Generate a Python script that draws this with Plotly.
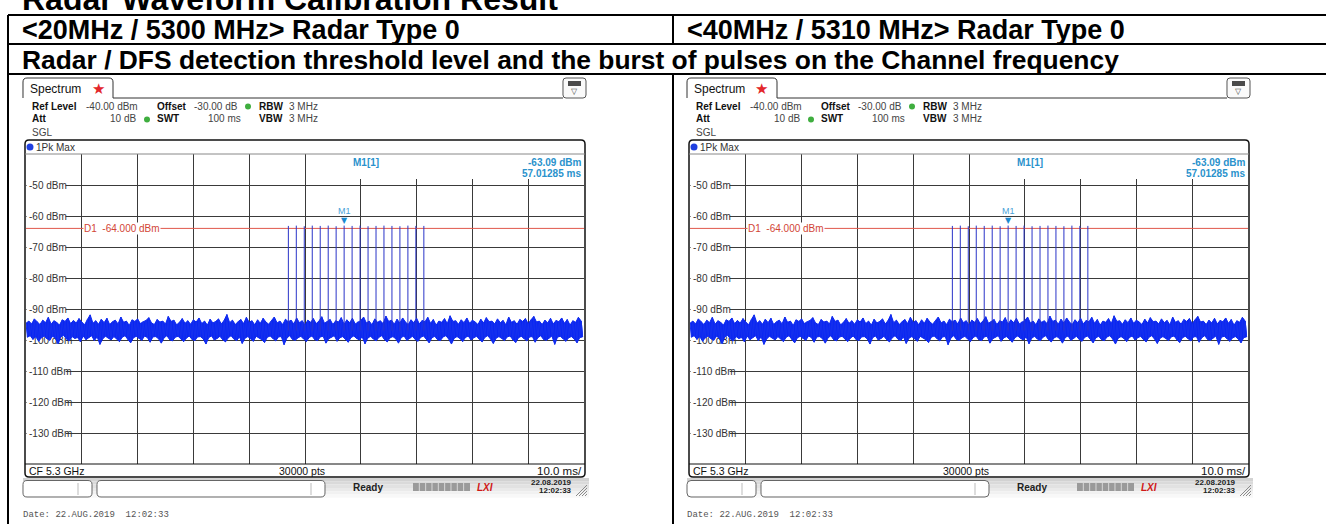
import plotly.graph_objects as go

W, H = 1326, 524
SANS = "Liberation Sans, Arial, sans-serif"
MONO = "Liberation Mono, Courier New, monospace"

# ---------------- measurement data (same sweep in both captures) ----------------
sweep_range_ms = [0, 100]
level_range_dbm = [-140, -40]
level_ticks_dbm = [-50, -60, -70, -80, -90, -100, -110, -120, -130]
level_tick_text = ["-50 dBm", "-60 dBm", "-70 dBm", "-80 dBm", "-90 dBm",
                   "-100 dBm", "-110 dBm", "-120 dBm", "-130 dBm"]

# Radar type 0 burst: 18 pulses, PRI about 1.428 ms
pulse_times_ms = [47.02, 48.44, 49.87, 51.30, 52.73, 54.16, 55.58, 57.01285, 58.44,
                  59.87, 61.30, 62.73, 64.15, 65.58, 67.01, 68.44, 69.87, 71.30]
pulse_peaks_dbm = [-63.2, -63.1, -63.3, -63.1, -63.2, -63.1, -63.3, -63.09, -63.2,
                   -63.1, -63.3, -63.2, -63.1, -63.2, -63.3, -63.1, -63.2, -63.2]
pulse_floor_dbm = -97.0

threshold_dbm = -64.0
marker_time_ms = 57.01285
marker_level_dbm = -63.09

# noise floor: per 0.5 ms bin, max-hold peak and trough
noise_step_ms = 0.5
noise_peak_dbm = [
    -94.6, -93.9, -94.8, -93.2, -94.1, -95.0, -93.6, -94.4, -92.7, -94.9, -93.8, -94.3, -95.2, -93.5, -94.0, -92.9, -94.7, -93.7, -94.5, -93.1,
    -94.2, -95.1, -93.4, -91.9, -94.6, -93.8, -94.9, -93.3, -94.4, -93.0, -95.0, -94.1, -93.6, -94.8, -92.6, -94.3, -93.9, -95.3, -93.5, -94.0,
    -93.2, -94.7, -94.1, -93.7, -92.8, -94.5, -95.0, -93.4, -94.2, -93.9, -94.8, -92.4, -94.0, -93.6, -95.1, -94.3, -93.1, -94.6, -93.8, -94.9,
    -93.5, -94.2, -92.9, -94.7, -93.9, -95.2, -93.3, -94.5, -94.0, -93.2, -94.8, -93.7, -91.8, -94.4, -93.6, -95.0, -94.1, -93.4, -94.7, -92.7,
    -94.3, -93.8, -95.1, -93.5, -94.6, -93.0, -94.2, -94.9, -93.7, -92.6, -94.5, -93.9, -95.0, -93.3, -94.1, -93.6, -94.8, -92.9, -94.4, -93.8,
    -95.2, -93.6, -94.3, -93.1, -94.7, -93.9, -92.5, -94.6, -94.0, -93.4, -95.0, -93.8, -94.2, -92.8, -94.9, -93.5, -94.4, -93.0, -94.8, -94.1,
    -93.7, -92.6, -94.5, -93.9, -95.1, -93.2, -94.3, -93.8, -94.7, -92.3, -94.0, -93.6, -94.9, -93.3, -94.5, -92.9, -94.2, -95.0, -93.5, -94.4,
    -93.0, -94.8, -93.7, -94.1, -92.7, -94.6, -93.4, -95.2, -93.9, -94.3, -93.1, -94.7, -92.2, -94.0, -93.8, -94.9, -93.5, -94.4, -92.9, -94.6,
    -93.6, -94.2, -95.0, -93.3, -94.5, -92.8, -94.1, -93.9, -94.8, -93.2, -94.4, -93.7, -95.1, -92.6, -94.3, -93.8, -94.9, -93.4, -94.0, -93.1,
    -94.7, -93.5, -92.4, -94.2, -93.9, -95.0, -93.6, -94.5, -93.0, -94.8, -93.7, -94.1, -92.9, -94.6, -93.4, -95.2, -93.8, -94.3, -92.7, -93.9,
]
noise_trough_dbm = [
    -99.1, -98.6, -99.8, -98.9, -100.4, -99.3, -98.7, -99.6, -100.1, -98.8, -99.4, -101.2, -99.0, -98.5, -99.7, -100.3, -98.9, -99.5, -99.2, -100.6,
    -98.7, -99.9, -99.3, -98.6, -100.2, -99.0, -101.4, -99.6, -98.8, -99.4, -100.0, -98.9, -99.7, -100.5, -99.1, -98.6, -99.8, -100.9, -99.3, -98.8,
    -99.5, -100.1, -98.7, -99.2, -100.7, -99.0, -98.9, -99.6, -101.0, -99.3, -98.6, -99.9, -100.3, -99.1, -98.8, -99.7, -100.5, -99.4, -98.7, -99.8,
    -100.2, -99.0, -98.9, -99.6, -101.3, -99.2, -98.7, -100.0, -99.5, -98.8, -99.9, -100.6, -99.3, -98.6, -99.7, -100.2, -99.0, -101.1, -99.4, -98.9,
    -99.6, -100.4, -98.8, -99.2, -99.9, -100.8, -99.1, -98.7, -99.5, -100.3, -99.0, -98.9, -101.5, -99.4, -98.6, -99.8, -100.1, -99.3, -98.8, -99.7,
    -100.5, -99.2, -98.7, -99.9, -100.2, -99.0, -98.8, -101.0, -99.6, -99.1, -98.6, -100.4, -99.3, -98.9, -99.8, -100.7, -99.2, -98.7, -99.5, -100.0,
    -99.0, -101.2, -99.4, -98.8, -99.7, -100.3, -99.1, -98.6, -99.9, -100.6, -99.3, -98.9, -99.6, -101.0, -99.2, -98.7, -100.1, -99.5, -98.8, -99.8,
    -100.4, -99.1, -98.7, -99.6, -100.9, -99.3, -98.8, -99.9, -100.2, -99.0, -98.6, -99.7, -101.3, -99.4, -98.9, -99.5, -100.5, -99.2, -98.7, -100.0,
    -99.3, -98.8, -99.8, -100.6, -99.1, -98.6, -99.7, -101.1, -99.4, -98.9, -99.5, -100.2, -99.0, -98.7, -99.9, -100.8, -99.3, -98.8, -99.6, -100.3,
    -99.0, -98.9, -100.7, -99.2, -98.6, -99.8, -100.1, -99.4, -98.7, -101.4, -99.1, -98.8, -99.6, -100.4, -99.3, -98.9, -99.7, -100.9, -99.2, -99.0,
]

# ---------------- page / table text ----------------
page_title = "Radar Waveform Calibration Result"
panel_titles = ["&lt;20MHz / 5300 MHz&gt; Radar Type 0", "&lt;40MHz / 5310 MHz&gt; Radar Type 0"]
row_caption = "Radar / DFS detection threshold level and the burst of pulses on the Channel frequency"
panel_offsets_px = [0, 664]

# plot area of one analyzer capture, in page pixels (left capture)
PX0, PX1, PY0, PY1 = 26, 584, 154, 464

shapes, annotations = [], []


def P(x, y):
    return f"{x / W:.6f},{1 - y / H:.6f}"


def line(x0, y0, x1, y1, color="#000", width=1):
    shapes.append(dict(type="line", xref="paper", yref="paper", x0=x0 / W, y0=1 - y0 / H,
                       x1=x1 / W, y1=1 - y1 / H, line=dict(color=color, width=width)))


def rect(x0, y0, x1, y1, fill, color=None, width=0):
    shapes.append(dict(type="rect", xref="paper", yref="paper", x0=x0 / W, y0=1 - y0 / H,
                       x1=x1 / W, y1=1 - y1 / H, fillcolor=fill,
                       line=dict(color=color or fill, width=width)))


def rrect(x0, y0, x1, y1, r, color="#000", width=1, fill="rgba(0,0,0,0)"):
    path = (f"M{P(x0 + r, y0)} L{P(x1 - r, y0)} Q{P(x1, y0)} {P(x1, y0 + r)} "
            f"L{P(x1, y1 - r)} Q{P(x1, y1)} {P(x1 - r, y1)} L{P(x0 + r, y1)} "
            f"Q{P(x0, y1)} {P(x0, y1 - r)} L{P(x0, y0 + r)} Q{P(x0, y0)} {P(x0 + r, y0)} Z")
    shapes.append(dict(type="path", xref="paper", yref="paper", path=path, fillcolor=fill,
                       line=dict(color=color, width=width)))


def circle(cx, cy, r, fill):
    shapes.append(dict(type="circle", xref="paper", yref="paper",
                       x0=(cx - r) / W, x1=(cx + r) / W, y0=1 - (cy + r) / H, y1=1 - (cy - r) / H,
                       fillcolor=fill, line=dict(color=fill, width=0)))


def text(x, y, s, size=10, color="#333", anchor="left", family=SANS, bold=False, bg=None):
    if bold:
        s = f"<b>{s}</b>"
    a = dict(x=x / W, y=1 - y / H, xref="paper", yref="paper", text=s, showarrow=False,
             xanchor=anchor, yanchor="middle", borderpad=0,
             font=dict(family=family, size=size, color=color))
    if bg:
        a["bgcolor"] = bg
    annotations.append(a)


# ---------------- document table ----------------
text(21, -1, page_title, size=32, color="#000", bold=True)
line(8, 15, W, 15, width=2)
line(8, 44, W, 44, width=2)
line(8, 74, W, 74, width=2)
line(8, 15, 8, H, width=2)
line(673, 15, 673, 44, width=2)
line(673, 74, 673, H, width=2)
text(21, 30, panel_titles[0], size=27, color="#000", bold=True)
text(686, 30, panel_titles[1], size=27, color="#000", bold=True)
text(21, 59.5, row_caption, size=26.4, color="#000", bold=True)

# ---------------- analyzer screen chrome ----------------
for dx in panel_offsets_px:
    # tab and title bar
    shapes.append(dict(type="path", xref="paper", yref="paper",
                       path=(f"M{P(dx + 23, 98)} L{P(dx + 23, 82)} Q{P(dx + 23, 78)} {P(dx + 27, 78)} "
                             f"L{P(dx + 109, 78)} Q{P(dx + 113, 78)} {P(dx + 113, 82)} L{P(dx + 113, 98)}"),
                       line=dict(color="#333", width=1)))
    line(dx + 113, 98, dx + 563, 98, color="#333", width=1)
    text(dx + 29, 89, "Spectrum", size=12, color="#111")
    text(dx + 98, 88, "★", size=15, color="#e3262b", anchor="center")
    rrect(dx + 563, 78, dx + 586, 98, 3, color="#555", width=1, fill="#fafafa")
    rect(dx + 568, 81, dx + 581, 86, "#4a4a4a")
    text(dx + 574.5, 91.5, "▽", size=8, color="#444", anchor="center")

    # settings block
    text(dx + 31, 106, "Ref Level", bold=True, color="#111")
    text(dx + 85, 106, "-40.00 dBm", color="#444")
    text(dx + 156, 106, "Offset", bold=True, color="#111")
    text(dx + 193, 106, "-30.00 dB", color="#444")
    circle(dx + 248, 106.5, 3, "#3fae3f")
    text(dx + 258, 106, "RBW", bold=True, color="#111")
    text(dx + 288, 106, "3 MHz", color="#444")
    text(dx + 31, 119, "Att", bold=True, color="#111")
    text(dx + 137, 119, "10 dB", color="#444", anchor="right")
    circle(dx + 147, 119.5, 3, "#3fae3f")
    text(dx + 156, 119, "SWT", bold=True, color="#111")
    text(dx + 207, 119, "100 ms", color="#444")
    text(dx + 258, 119, "VBW", bold=True, color="#111")
    text(dx + 288, 119, "3 MHz", color="#444")
    text(dx + 31, 133, "SGL", color="#444")

    # diagram frame, trace header and footer
    rrect(dx + 25, 140, dx + 585, 477, 4, color="#111", width=1.5)
    line(dx + 25, PY0, dx + 585, PY0, color="#888", width=1)
    line(dx + 25, PY1, dx + 585, PY1, color="#111", width=1)
    circle(dx + 30, 147, 3.5, "#1f3fe0")
    text(dx + 35, 147, "1Pk Max", color="#333")
    text(dx + 28, 470.5, "CF 5.3 GHz", size=10.5, color="#111")
    text(dx + 302, 470.5, "30000 pts", size=10.5, color="#111", anchor="center")
    text(dx + 583, 470.5, "10.0 ms/", size=11.5, color="#111", anchor="right")

    # status bar
    for k, g in enumerate(["#d2d2d2", "#dadada", "#e2e2e2", "#eaeaea", "#f1f1f1", "#f8f8f8"]):
        rect(dx + 23, 478 + k * 3.3, dx + 589, 481.3 + k * 3.3, g)
    rrect(dx + 23, 480.5, dx + 92, 497, 4, color="#666", width=1, fill="#fff")
    line(dx + 78, 483, dx + 78, 495, color="#bbb")
    rrect(dx + 97, 480.5, dx + 325, 497, 4, color="#666", width=1, fill="#fff")
    line(dx + 311, 483, dx + 311, 495, color="#bbb")
    text(dx + 368, 487, "Ready", size=10, color="#222", anchor="center", bold=True)
    rect(dx + 413, 483, dx + 470, 491, "#9a9a9a")
    for k in range(1, 9):
        line(dx + 413 + k * 6.33, 483, dx + 413 + k * 6.33, 491, color="#d8d8d8", width=1)
    text(dx + 485, 487, "<i>LXI</i>", size=10, color="#d01818", anchor="center", bold=True)
    text(dx + 573, 482, "22.08.2019", size=8, color="#222", anchor="right", bold=True)
    text(dx + 573, 490, "12:02:33", size=8, color="#222", anchor="right", bold=True)
    for k in range(4):
        line(dx + 576 + k * 3, 496, dx + 587, 485 + k * 3, color="#8a8a8a", width=1)

    text(dx + 22, 515, "Date: 22.AUG.2019  12:02:33", size=9, color="#555", family=MONO)

# ---------------- traces ----------------
# noise band: peaks along the top edge, troughs back along the bottom edge
band_x = [i * noise_step_ms for i in range(len(noise_peak_dbm))]
band_x += [i * noise_step_ms + noise_step_ms / 2 for i in range(len(noise_trough_dbm))][::-1]
band_y = list(noise_peak_dbm) + list(noise_trough_dbm)[::-1]

# the same values as a single zig-zag sweep line
noise_x, noise_y = [], []
for i, (hi, lo) in enumerate(zip(noise_peak_dbm, noise_trough_dbm)):
    t = i * noise_step_ms
    noise_x += [t, t + noise_step_ms / 2]
    noise_y += [hi, lo]

pulse_x, pulse_y = [], []
for t, p in zip(pulse_times_ms, pulse_peaks_dbm):
    pulse_x += [t, t, None]
    pulse_y += [pulse_floor_dbm, p, None]

fig = go.Figure()
axis_ids = [("x", "y"), ("x2", "y2")]
for (xa, ya), dx in zip(axis_ids, panel_offsets_px):
    fig.add_trace(go.Scatter(x=band_x, y=band_y, xaxis=xa, yaxis=ya, mode="lines", fill="toself",
                             fillcolor="#0a26f2", line=dict(color="#0a26f2", width=1), hoverinfo="skip"))
    fig.add_trace(go.Scatter(x=noise_x, y=noise_y, xaxis=xa, yaxis=ya, mode="lines",
                             line=dict(color="#1530ee", width=1), hoverinfo="skip"))
    fig.add_trace(go.Scatter(x=pulse_x, y=pulse_y, xaxis=xa, yaxis=ya, mode="lines",
                             line=dict(color="#2a34c8", width=1), hoverinfo="skip"))

    # masks behind level labels and the marker readout
    for v in level_ticks_dbm:
        shapes.append(dict(type="rect", xref=xa, yref=ya, x0=0.1, x1=7.1, y0=v - 1.5, y1=v + 1.5,
                           fillcolor="#fff", line=dict(width=0), layer="between"))
    shapes.append(dict(type="rect", xref=xa, yref=ya, x0=56.3, x1=100, y0=-48.1, y1=-40,
                       fillcolor="#fff", line=dict(width=0), layer="between"))
    # display line D1
    shapes.append(dict(type="line", xref=xa, yref=ya, x0=0, x1=100, y0=threshold_dbm, y1=threshold_dbm,
                       line=dict(color="#e0584c", width=1), layer="between"))
    annotations.append(dict(xref=xa, yref=ya, x=10.2, y=threshold_dbm, xanchor="left", yanchor="middle",
                            text="D1\u00a0\u00a0-64.000 dBm", showarrow=False, bgcolor="#fff", borderpad=0,
                            font=dict(family=SANS, size=10, color="#d24536")))
    # marker M1
    annotations.append(dict(xref=xa, yref=ya, x=marker_time_ms, y=marker_level_dbm, xanchor="center",
                            yanchor="bottom", yshift=-1, text="▼", showarrow=False,
                            font=dict(family="DejaVu Sans", size=8, color="#1a8ad0")))
    annotations.append(dict(xref=xa, yref=ya, x=marker_time_ms, y=marker_level_dbm, xanchor="center",
                            yanchor="bottom", yshift=8, text="M1", showarrow=False,
                            font=dict(family=SANS, size=9, color="#4aa2d8")))
    annotations.append(dict(xref=xa, yref=ya, x=60.9, y=-42.6, xanchor="center", yanchor="middle",
                            text="<b>M1[1]</b>", showarrow=False,
                            font=dict(family=SANS, size=10, color="#2a92cc")))
    annotations.append(dict(xref=xa, yref=ya, x=100, xshift=-1, y=-42.6, xanchor="right", yanchor="middle",
                            text=f"<b>{marker_level_dbm:.2f} dBm</b>", showarrow=False,
                            font=dict(family=SANS, size=10, color="#2a92cc")))
    annotations.append(dict(xref=xa, yref=ya, x=100, xshift=-1, y=-46.3, xanchor="right", yanchor="middle",
                            text=f"<b>{marker_time_ms:.5f} ms</b>", showarrow=False,
                            font=dict(family=SANS, size=10, color="#2a92cc")))

grid = "#3a3a3a"
layout_axes = {}
for i, ((xa, ya), dx) in enumerate(zip(axis_ids, panel_offsets_px)):
    xk = "xaxis" if i == 0 else "xaxis2"
    yk = "yaxis" if i == 0 else "yaxis2"
    layout_axes[xk] = dict(domain=[(PX0 + dx) / W, (PX1 + dx) / W], range=sweep_range_ms, dtick=10,
                           showgrid=True, gridcolor=grid, gridwidth=1, zeroline=False,
                           showticklabels=False, ticks="", anchor=ya, fixedrange=True)
    layout_axes[yk] = dict(domain=[1 - PY1 / H, 1 - PY0 / H], range=level_range_dbm,
                           tickvals=level_ticks_dbm, ticktext=level_tick_text,
                           ticklabelposition="inside", ticks="", layer="below traces",
                           tickfont=dict(family=SANS, size=10, color="#333"),
                           showgrid=True, gridcolor=grid, gridwidth=1, zeroline=False,
                           anchor=xa, fixedrange=True)

fig.update_layout(
    width=W, height=H, autosize=False,
    margin=dict(l=0, r=0, t=0, b=0, pad=0),
    paper_bgcolor="#fff", plot_bgcolor="#fff",
    showlegend=False,
    shapes=shapes, annotations=annotations,
    **layout_axes,
)

fig.write_html("out.html")
